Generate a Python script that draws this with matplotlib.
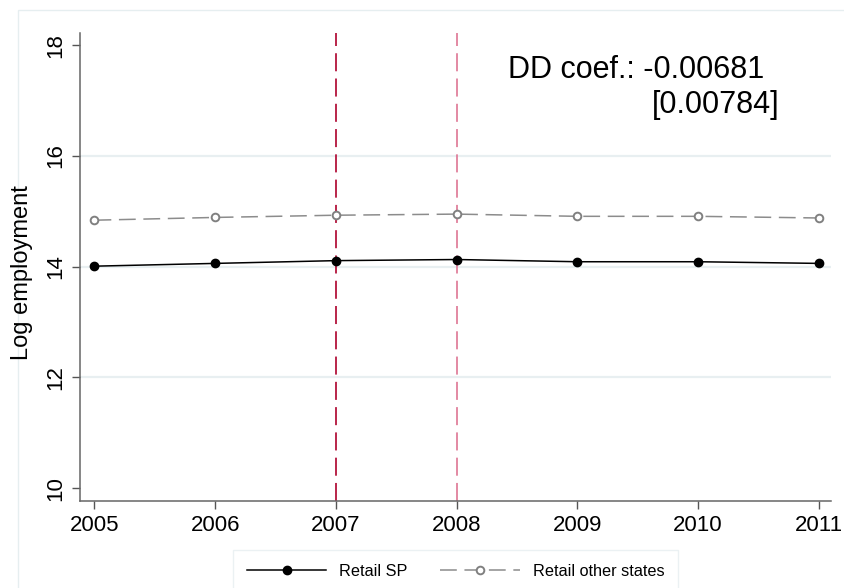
import matplotlib
matplotlib.use("Agg")
import matplotlib.pyplot as plt
from matplotlib.patches import Rectangle

years = [2005, 2006, 2007, 2008, 2009, 2010, 2011]
retail_sp = [14.01, 14.06, 14.11, 14.13, 14.09, 14.09, 14.06]
retail_other = [14.84, 14.89, 14.93, 14.95, 14.91, 14.91, 14.88]
yticks = [10, 12, 14, 16, 18]
grid_vals = [12, 14, 16]
vlines = [2007, 2008]
vline_colors = ["#b3143c", "#e0809c"]
annot_line1 = "DD coef.: -0.00681"
annot_line2 = "[0.00784]"

plt.rcParams['font.family'] = ['Liberation Sans', 'DejaVu Sans']

W, H = 844, 588
fig = plt.figure(figsize=(W / 100, H / 100), dpi=100)
fig.patch.set_facecolor("white")

# outer graph region border
fig.add_artist(Rectangle((18 / W, -0.01), 1.0, 1 - 10 / H + 0.01, transform=fig.transFigure,
                         fill=False, edgecolor="#e6eef0", linewidth=1.0))

ax = fig.add_axes([80 / W, 1 - 501 / H, (831 - 80) / W, (501 - 33) / H])
ax.set_xlim(2004.88, 2011.1)
ax.set_ylim(9.77, 18.22)

for g in grid_vals:
    ax.axhline(g, color="#e8eff1", linewidth=1.6, zorder=0)

for xv, c in zip(vlines, vline_colors):
    ax.axvline(xv, color=c, linewidth=1.3, linestyle=(0, (10, 4)), zorder=1)

ax.plot(years, retail_sp, color="black", linewidth=1.1, marker="o", markersize=6,
        markerfacecolor="black", markeredgecolor="black", label="Retail SP", zorder=3)
ax.plot(years, retail_other, color="#8c8c8c", linewidth=1.1, linestyle=(0, (11, 5)),
        marker="o", markersize=5.5, markerfacecolor="white", markeredgecolor="#808080",
        markeredgewidth=1.4, label="Retail other states", zorder=3)

ax.set_xticks(years)
ax.set_xticklabels([str(y) for y in years], fontsize=16)
ax.set_yticks(yticks)
ax.set_yticklabels([str(v) for v in yticks], fontsize=16, rotation=90, va="center")
ax.tick_params(axis="both", direction="out", length=6, width=1, color="#555555", pad=4)

for s in ["top", "right"]:
    ax.spines[s].set_visible(False)
for s in ["left", "bottom"]:
    ax.spines[s].set_color("#666666")
    ax.spines[s].set_linewidth(1.1)

fig.text(22 / W, 1 - 273 / H, "Log employment", fontsize=17, rotation=90,
         ha="center", va="center")

fig.text(508 / W, 1 - 78 / H, annot_line1, fontsize=22, ha="left", va="baseline")
fig.text(779 / W, 1 - 113 / H, annot_line2, fontsize=22, ha="right", va="baseline")

leg = fig.legend(loc="upper left", bbox_to_anchor=(233 / W, 1 - 550 / H), ncol=2,
                 fontsize=11.7, frameon=True, fancybox=False, handlelength=4.9,
                 columnspacing=2.0, handletextpad=0.8, borderpad=0.85, borderaxespad=0)
leg.get_frame().set_edgecolor("#e6eef0")
leg.get_frame().set_linewidth(1.0)

fig.savefig("out.png", dpi=100)
